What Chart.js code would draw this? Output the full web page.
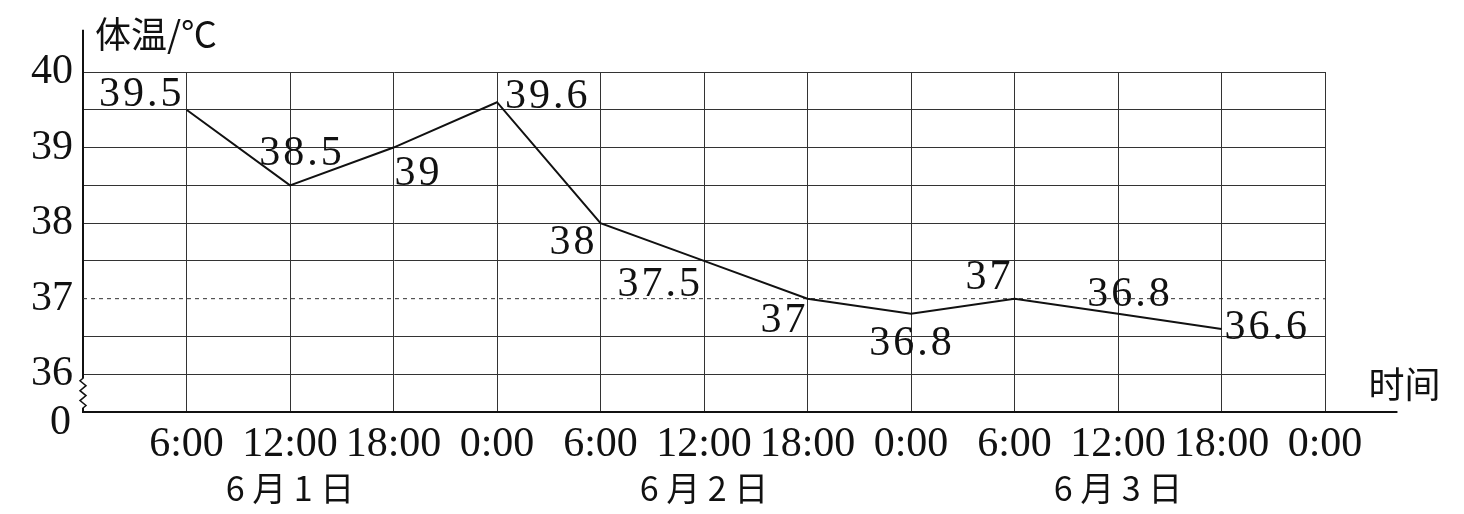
<!DOCTYPE html>
<html>
<head>
<meta charset="utf-8">
<script src="https://cdn.jsdelivr.net/npm/chart.js@4.4.1/dist/chart.umd.min.js"></script>
<style>
  html, body { margin: 0; padding: 0; background: #fff; }
  #wrap { width: 1464px; height: 514px; position: relative; }
</style>
</head>
<body>
<div id="wrap"><canvas id="chart"></canvas></div>
<script>
// ─── Data ────────────────────────────────────────────────────────────────────
const timeLabels = ['', '6:00', '12:00', '18:00', '0:00', '6:00', '12:00', '18:00', '0:00', '6:00', '12:00', '18:00', '0:00'];
const dayPositions = [2, 6, 10];
const dayLabels = ['6 月 1 日', '6 月 2 日', '6 月 3 日'];
const temps = [39.5, 38.5, 39, 39.6, 38, 37.5, 37, 36.8, 37, 36.8, 36.6];
const yTickLabels = { 36: '36', 37: '37', 38: '38', 39: '39', 40: '40' };
const yBreakLabel = '0';
const refTemp = 37;

// label placement per point: [align, dx, baseline dy]
const labelPlace = [
  ['right', -2, -4], ['center', 12, -20], ['left', 1, 37], ['left', 8, 6],
  ['right', -3, 31], ['right', -1, 35], ['right', 1, 33], ['center', 1, 41],
  ['right', -1, -10], ['center', 12, -8], ['left', 3, 10]
];

const SERIF = '"Liberation Serif", "Noto Sans CJK SC", serif';
const CJK = '"Noto Sans CJK SC", "Liberation Serif", sans-serif';

// ─── Decorations: value labels, axis extensions, break mark, titles ─────────
const decorPlugin = {
  id: 'decor',
  afterDatasetsDraw(chart) {
    const { ctx, scales: { x, y } } = chart;
    const meta = chart.getDatasetMeta(0);
    ctx.save();
    ctx.fillStyle = '#111';
    ctx.font = '42px ' + SERIF;
    ctx.textBaseline = 'alphabetic';
    ctx.letterSpacing = '3px';
    meta.data.forEach((pt, i) => {
      const [align, dx, dy] = labelPlace[i];
      ctx.textAlign = align;
      ctx.fillText(String(temps[i]), pt.x + dx, pt.y + dy);
    });
    ctx.letterSpacing = '0px';

    // axis extensions
    ctx.strokeStyle = '#111';
    ctx.lineWidth = 2;
    const left = x.getPixelForValue(0), bottom = y.getPixelForValue(35.5);
    ctx.beginPath();
    ctx.moveTo(left, y.getPixelForValue(40));
    ctx.lineTo(left, y.getPixelForValue(40.56));
    ctx.moveTo(x.getPixelForValue(12), bottom);
    ctx.lineTo(x.getPixelForValue(12.7), bottom);
    ctx.stroke();

    // break mark on the y axis
    const top = y.getPixelForValue(36);
    ctx.fillStyle = '#fff';
    ctx.fillRect(left - 2, top + 4, 4, bottom - top - 8);
    ctx.lineWidth = 1.5;
    ctx.beginPath();
    ctx.moveTo(left, top);
    ctx.lineTo(left, top + 4);
    const n = 6, h = (bottom - top - 8) / n;
    for (let k = 0; k < n; k++) {
      ctx.lineTo(left + (k % 2 ? 3 : -3), top + 4 + h * (k + 0.5));
    }
    ctx.lineTo(left, bottom - 4);
    ctx.lineTo(left, bottom);
    ctx.stroke();

    // "0" under the break
    ctx.fillStyle = '#111';
    ctx.font = '42px ' + SERIF;
    ctx.textAlign = 'right';
    ctx.textBaseline = 'middle';
    ctx.fillText(yBreakLabel, left - 12, bottom + 11);

    // day labels under the time ticks
    ctx.textAlign = 'center';
    ctx.font = '34px ' + CJK;
    dayPositions.forEach((p, i) => {
      ctx.fillText(dayLabels[i], x.getPixelForValue(p), bottom + 76);
    });

    // axis titles
    ctx.textAlign = 'left';
    ctx.font = '36px ' + CJK;
    ctx.fillText('体温/℃', left + 12, y.getPixelForValue(40.5));
    ctx.fillText('时间', x.getPixelForValue(12.42), y.getPixelForValue(35.87));
    ctx.restore();
  }
};

// ─── Chart ───────────────────────────────────────────────────────────────────
new Chart(document.getElementById('chart'), {
  type: 'line',
  data: {
    datasets: [
      {
        label: '体温',
        data: temps.map((t, i) => ({ x: i + 1, y: t })),
        borderColor: '#111',
        borderWidth: 2,
        pointRadius: 0,
        tension: 0,
      },
      {
        label: '37',
        data: [{ x: 0, y: refTemp }, { x: 12, y: refTemp }],
        borderColor: '#333',
        borderWidth: 1,
        borderDash: [4, 4],
        pointRadius: 0,
      }
    ]
  },
  options: {
    responsive: true,
    maintainAspectRatio: false,
    animation: false,
    layout: { padding: { top: 72, right: 139, left: 0, bottom: 0 } },
    plugins: { legend: { display: false }, tooltip: { enabled: false } },
    scales: {
      x: {
        type: 'linear',
        min: 0, max: 12,
        afterFit: s => { s.height = 102; },
        ticks: {
          stepSize: 1,
          autoSkip: false,
          maxRotation: 0,
          padding: 8,
          color: '#111',
          font: { family: SERIF, size: 42 },
          callback: v => timeLabels[v]
        },
        grid: { color: '#333', lineWidth: 1, drawTicks: false },
        border: { color: '#111', width: 2 }
      },
      y: {
        min: 35.5, max: 40,
        afterFit: s => { s.width = 83; },
        afterBuildTicks: s => { s.ticks = [35.5, 36, 36.5, 37, 37.5, 38, 38.5, 39, 39.5, 40].map(v => ({ value: v })); },
        ticks: {
          autoSkip: false,
          padding: 10,
          color: '#111',
          font: { family: SERIF, size: 42 },
          callback: v => yTickLabels[v] || ''
        },
        grid: {
          color: c => (c.tick && c.tick.value === refTemp) ? 'rgba(0,0,0,0)' : '#333',
          lineWidth: 1,
          drawTicks: false
        },
        border: { color: '#111', width: 2 }
      }
    }
  },
  plugins: [decorPlugin]
});
</script>
</body>
</html>
